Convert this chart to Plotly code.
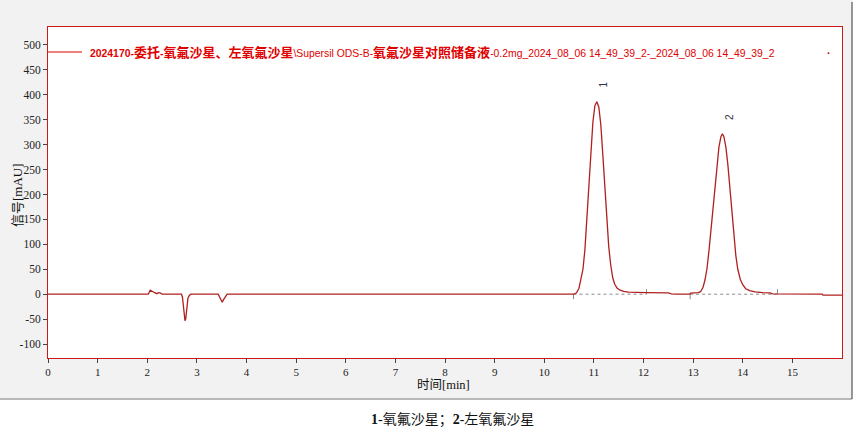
import plotly.graph_objects as go

# ---------------- data ----------------
time_min = [
    0.00, 2.02, 2.06, 2.10, 2.15, 2.19, 2.23, 2.27, 2.30,
    2.69, 2.71, 2.73, 2.745, 2.76, 2.775, 2.79, 2.80, 2.82, 2.85, 2.88,
    3.43, 3.47, 3.51, 3.55, 3.58, 3.61,
    10.60, 10.65, 10.70, 10.74, 10.78, 10.82, 10.86, 10.90, 10.94, 10.98, 11.02,
    11.06, 11.10, 11.14, 11.18, 11.22, 11.26, 11.30, 11.34, 11.38, 11.42, 11.47,
    11.53, 11.60, 11.70, 11.85, 12.05, 12.50, 12.56, 12.65,
    12.93, 12.95, 13.10, 13.15, 13.20, 13.24, 13.28, 13.32, 13.36, 13.40, 13.44,
    13.48, 13.52, 13.56, 13.59, 13.62, 13.66, 13.70, 13.74, 13.78, 13.82, 13.86,
    13.90, 13.95, 14.00, 14.06, 14.14, 14.25, 14.40, 14.55, 14.60,
    15.60, 15.62, 16.00,
]
signal_mau = [
    0, 0, 8, 5, 3, 1, 3, 2, 0,
    0, -6, -25, -45, -53, -50, -30, -15, -8, -2, 0,
    0, -9, -16, -9, -3, 0,
    0, 3, 12, 28, 50, 90, 150, 220, 290, 345, 378,
    386, 375, 340, 280, 210, 148, 95, 58, 33, 20, 12,
    8, 5.5, 4, 3, 3, 2.5, 0.5, 0,
    0, 2, 3, 5, 14, 29, 52, 88, 130, 170, 218,
    260, 295, 316, 322, 316, 295, 260, 212, 162, 115, 78,
    50, 30, 19, 11, 7, 4.5, 3, 2.5, 0.5,
    0, -2, -2,
]

peak_labels = ["1", "2"]
peak_times = [11.06, 13.59]
peak_heights = [386, 322]

# integration baselines (start, end) and their marker heights
baseline_starts = [10.59, 12.94]
baseline_ends = [12.06, 14.70]
baseline_level = 0
baseline_tick = 10

x_ticks = list(range(0, 16))
y_ticks = list(range(-100, 501, 50))
x_range = [0, 16]
y_range = [-128, 536]

CJK = "<b><span style='font-size:13px'>{}</span></b>"
legend_text = ("<b>2024170-</b>" + CJK.format("委托") + "<b>-</b>"
               + CJK.format("氧氟沙星、左氧氟沙星")
               + "\\Supersil ODS-B-"
               + CJK.format("氧氟沙星对照储备液")
               + "-0.2mg_2024_08_06 14_49_39_2-_2024_08_06 14_49_39_2")
caption_text = "<b>1</b>-氧氟沙星；<b>2</b>-左氧氟沙星"

# ---------------- figure ----------------
W, H = 855, 439
L, R, T, B = 48, 13, 27, 81
pw, ph = W - L - R, H - T - B


def px(x):
    return (x - L) / pw


def py(y):
    return (H - B - y) / ph


CURVE = "#b02020"
BORDER = "#cc1a1a"
RED_TXT = "#e00000"
PANEL = "#f2f2f2"

fig = go.Figure()

# dashed integration baselines with tick markers
for s, e in zip(baseline_starts, baseline_ends):
    fig.add_trace(go.Scatter(
        x=[s, e], y=[baseline_level, baseline_level], mode="lines",
        line=dict(color="#8a8a8a", width=1, dash="dot"),
        hoverinfo="skip", showlegend=False))
    fig.add_trace(go.Scatter(
        x=[s, s], y=[baseline_level, baseline_level - baseline_tick], mode="lines",
        line=dict(color="#8a8a8a", width=1), hoverinfo="skip", showlegend=False))
    fig.add_trace(go.Scatter(
        x=[e, e], y=[baseline_level, baseline_level + baseline_tick], mode="lines",
        line=dict(color="#8a8a8a", width=1), hoverinfo="skip", showlegend=False))

# chromatogram
fig.add_trace(go.Scatter(
    x=time_min, y=signal_mau, mode="lines",
    line=dict(color=CURVE, width=1.3), hoverinfo="skip", showlegend=False))

annotations = []
for lab, t, h in zip(peak_labels, peak_times, peak_heights):
    annotations.append(dict(
        x=t, y=h, xref="x", yref="y", text=lab, showarrow=False,
        textangle=-90, xshift=7, yshift=17,
        font=dict(family="Arial, Liberation Sans", size=10, color="#333344")))

# legend entry (line + text)
annotations.append(dict(
    x=px(88), y=py(52), xref="paper", yref="paper", xanchor="left", yanchor="middle",
    text=legend_text, showarrow=False,
    font=dict(family="Arial, Liberation Sans, Noto Sans CJK SC", size=10.4, color=RED_TXT)))
annotations.append(dict(
    x=px(828), y=py(50), xref="paper", yref="paper", xanchor="center", yanchor="middle",
    text="<b>.</b>", showarrow=False,
    font=dict(family="Arial, Liberation Sans", size=11, color=RED_TXT)))

# axis titles
annotations.append(dict(
    x=px(16), y=py(195), xref="paper", yref="paper", xanchor="center", yanchor="middle",
    text="<span style='font-family:Noto Sans CJK SC'>信号</span>[mAU]", textangle=-90,
    showarrow=False,
    font=dict(family="Liberation Serif, Noto Sans CJK SC", size=13, color="#111111")))
annotations.append(dict(
    x=px(443), y=py(383.5), xref="paper", yref="paper", xanchor="center", yanchor="middle",
    text="<span style='font-family:Noto Sans CJK SC'>时间</span>[min]",
    showarrow=False,
    font=dict(family="Liberation Serif, Noto Sans CJK SC", size=12.5, color="#111111")))

# caption
annotations.append(dict(
    x=px(452), y=py(420), xref="paper", yref="paper", xanchor="center", yanchor="middle",
    text=caption_text, showarrow=False,
    font=dict(family="Liberation Serif, Noto Sans CJK SC", size=14, color="#111111")))

shapes = [
    # legend sample line
    dict(type="line", xref="paper", yref="paper", x0=px(48), x1=px(82),
         y0=py(52), y1=py(52), line=dict(color=RED_TXT, width=1.2)),
    # white area under the panel
    dict(type="rect", xref="paper", yref="paper", x0=px(-5), x1=px(W + 5),
         y0=py(399.5), y1=py(H + 5), fillcolor="white", line=dict(width=0), layer="above"),
    # white strip right of the panel
    dict(type="rect", xref="paper", yref="paper", x0=px(852.5), x1=px(W + 5),
         y0=py(-5), y1=py(H + 5), fillcolor="white", line=dict(width=0), layer="above"),
    # panel bottom / right edges
    dict(type="line", xref="paper", yref="paper", x0=px(0), x1=px(852),
         y0=py(399), y1=py(399), line=dict(color="#7a7a7a", width=1.2)),
    dict(type="line", xref="paper", yref="paper", x0=px(852), x1=px(852),
         y0=py(2), y1=py(399), line=dict(color="#555555", width=1.2)),
]

fig.update_layout(
    width=W, height=H,
    margin=dict(l=L, r=R, t=T, b=B, autoexpand=False),
    paper_bgcolor=PANEL, plot_bgcolor="white",
    showlegend=False,
    annotations=annotations, shapes=shapes,
    font=dict(family="Liberation Serif", size=12, color="#222222"),
)

fig.update_xaxes(
    range=x_range, tickvals=x_ticks, ticktext=[str(v) for v in x_ticks],
    showgrid=False, zeroline=False,
    showline=True, linecolor=BORDER, linewidth=1, mirror=True,
    ticks="outside", ticklen=4, tickcolor="#444444",
    tickfont=dict(family="Liberation Serif", size=11, color="#222222"))
fig.update_yaxes(
    range=y_range, tickvals=y_ticks, ticktext=[str(v) for v in y_ticks],
    showgrid=False, zeroline=False,
    showline=True, linecolor=BORDER, linewidth=1, mirror=True,
    ticks="outside", ticklen=4, tickcolor="#444444",
    tickfont=dict(family="Liberation Serif", size=11.5, color="#222222"))

fig.write_html(
    "out.html",
    config={"displayModeBar": False},
    post_script="document.body.style.margin='0';document.body.style.overflow='hidden';",
)
